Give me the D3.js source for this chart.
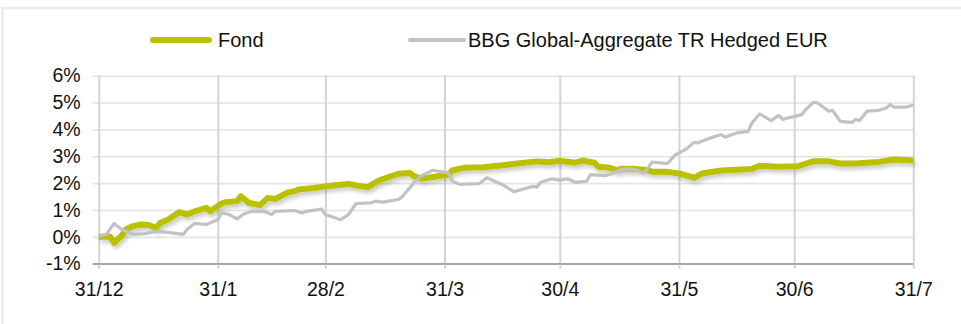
<!DOCTYPE html>
<html>
<head>
<meta charset="utf-8">
<script src="https://cdn.jsdelivr.net/npm/d3@7"></script>
<style>
  html, body { margin: 0; padding: 0; background: #fff; }
  svg { display: block; font-family: Arial, "Liberation Sans", sans-serif; }
</style>
</head>
<body>
<svg id="chart" width="961" height="324"></svg>
<script>
// Series names
const seriesNames = ["Fond", "BBG Global-Aggregate TR Hedged EUR"];

// Fund cumulative performance (%)
const fondDates = [
  "2022-12-31","2023-01-03","2023-01-04","2023-01-06","2023-01-07","2023-01-09","2023-01-11","2023-01-13",
  "2023-01-15","2023-01-16","2023-01-18","2023-01-21","2023-01-23","2023-01-25","2023-01-28","2023-01-29",
  "2023-02-01","2023-02-02","2023-02-05","2023-02-06","2023-02-08","2023-02-11","2023-02-13","2023-02-15",
  "2023-02-18","2023-02-20","2023-02-21","2023-02-25","2023-02-28","2023-03-06","2023-03-08","2023-03-11",
  "2023-03-14","2023-03-19","2023-03-22","2023-03-23","2023-03-25","2023-03-28","2023-04-01","2023-04-02",
  "2023-04-05","2023-04-10","2023-04-14","2023-04-19","2023-04-24","2023-04-27","2023-04-30","2023-05-04",
  "2023-05-06","2023-05-09","2023-05-10","2023-05-13","2023-05-15","2023-05-16","2023-05-19","2023-05-23",
  "2023-05-24","2023-05-28","2023-05-31","2023-06-04","2023-06-06","2023-06-11","2023-06-19","2023-06-21",
  "2023-06-26","2023-07-01","2023-07-05","2023-07-09","2023-07-12","2023-07-16","2023-07-22","2023-07-26",
  "2023-07-31"
];
const fondValues = [
  0.00, 0.00, -0.22, 0.05, 0.27, 0.40, 0.46, 0.44,
  0.33, 0.52, 0.64, 0.92, 0.83, 0.95, 1.08, 0.95,
  1.24, 1.29, 1.33, 1.51, 1.27, 1.18, 1.45, 1.41,
  1.64, 1.70, 1.76, 1.82, 1.88, 1.97, 1.91, 1.85,
  2.10, 2.35, 2.38, 2.26, 2.16, 2.23, 2.32, 2.47,
  2.57, 2.59, 2.65, 2.73, 2.81, 2.78, 2.83, 2.76,
  2.84, 2.76, 2.61, 2.57, 2.48, 2.54, 2.54, 2.48,
  2.42, 2.42, 2.36, 2.20, 2.36, 2.47, 2.53, 2.65,
  2.61, 2.63, 2.81, 2.81, 2.73, 2.73, 2.79, 2.88,
  2.84
];

// Benchmark cumulative performance (%)
const benchDates = [
  "2022-12-31","2023-01-02","2023-01-04","2023-01-06","2023-01-09","2023-01-12","2023-01-15","2023-01-19",
  "2023-01-22","2023-01-23","2023-01-25","2023-01-28","2023-01-31","2023-02-01","2023-02-03","2023-02-05",
  "2023-02-07","2023-02-09","2023-02-12","2023-02-14","2023-02-15","2023-02-20","2023-02-22","2023-02-23",
  "2023-02-27","2023-02-28","2023-03-04","2023-03-06","2023-03-08","2023-03-12","2023-03-13","2023-03-15",
  "2023-03-19","2023-03-20","2023-03-23","2023-03-25","2023-03-28","2023-04-01","2023-04-02","2023-04-04",
  "2023-04-09","2023-04-11","2023-04-15","2023-04-18","2023-04-23","2023-04-24","2023-04-25","2023-04-28",
  "2023-04-30","2023-05-02","2023-05-04","2023-05-07","2023-05-08","2023-05-12","2023-05-14","2023-05-16",
  "2023-05-19","2023-05-22","2023-05-24","2023-05-28","2023-05-30","2023-06-02","2023-06-04","2023-06-05",
  "2023-06-07","2023-06-11","2023-06-12","2023-06-15","2023-06-18","2023-06-19","2023-06-21","2023-06-24",
  "2023-06-26","2023-06-27","2023-06-29","2023-07-02","2023-07-03","2023-07-05","2023-07-06","2023-07-09",
  "2023-07-10","2023-07-12","2023-07-15","2023-07-16","2023-07-17","2023-07-19","2023-07-22","2023-07-24",
  "2023-07-25","2023-07-26","2023-07-29","2023-07-31"
];
const benchValues = [
  0.02, 0.09, 0.50, 0.27, 0.09, 0.12, 0.21, 0.15,
  0.09, 0.27, 0.50, 0.46, 0.64, 0.89, 0.83, 0.67,
  0.87, 0.95, 0.95, 0.83, 0.95, 0.98, 0.89, 0.95,
  1.03, 0.83, 0.64, 0.83, 1.24, 1.27, 1.33, 1.29,
  1.39, 1.49, 2.01, 2.28, 2.48, 2.38, 2.07, 1.95,
  1.98, 2.20, 1.95, 1.68, 1.88, 1.85, 2.03, 2.16,
  2.11, 2.16, 2.03, 2.07, 2.32, 2.28, 2.38, 2.51,
  2.53, 2.38, 2.78, 2.73, 3.04, 3.28, 3.52, 3.50,
  3.62, 3.81, 3.71, 3.87, 3.93, 4.24, 4.58, 4.33,
  4.52, 4.37, 4.45, 4.55, 4.74, 5.01, 4.99, 4.68,
  4.71, 4.30, 4.26, 4.37, 4.33, 4.68, 4.71, 4.80,
  4.93, 4.83, 4.83, 4.90
];

// Axis ticks
const xTickDates = ["2022-12-31","2023-01-31","2023-02-28","2023-03-31","2023-04-30","2023-05-31","2023-06-30","2023-07-31"];
const xTickLabels = ["31/12","31/1","28/2","31/3","30/4","31/5","30/6","31/7"];
const yTickValues = [-1, 0, 1, 2, 3, 4, 5, 6];
const yTickLabels = ["-1%","0%","1%","2%","3%","4%","5%","6%"];

const parse = d3.utcParse("%Y-%m-%d");
const fond = fondDates.map((d, i) => ({ date: parse(d), value: fondValues[i] }));
const bench = benchDates.map((d, i) => ({ date: parse(d), value: benchValues[i] }));
const xTicks = xTickDates.map(parse);

const colFond = "#bac200";
const colBench = "#c2c2c2";
const tickFont = "19.5px";
const legendFont = "20px";

const svg = d3.select("#chart");

// frame
svg.append("rect")
  .attr("x", 2.5).attr("y", 8).attr("width", 1000).attr("height", 400)
  .attr("fill", "none").attr("stroke", "#ebebeb").attr("stroke-width", 2.5);

const plotLeft = 98.7, plotRight = 913.3, plotTop = 75.7, plotBottom = 263.7;

const x = d3.scaleUtc()
  .domain([xTicks[0], xTicks[xTicks.length - 1]])
  .range([plotLeft, plotRight]);
const y = d3.scaleLinear().domain([-1, 6]).range([plotBottom, plotTop]);

// shadow under the fund line
const defs = svg.append("defs");
const f = defs.append("filter").attr("id", "shadow")
  .attr("x", "-5%").attr("y", "-50%").attr("width", "110%").attr("height", "200%");
f.append("feDropShadow")
  .attr("dx", 2).attr("dy", 3).attr("stdDeviation", 2.2)
  .attr("flood-color", "#000").attr("flood-opacity", 0.22);

// horizontal gridlines + y labels
const yAxis = d3.axisLeft(y)
  .tickValues(yTickValues)
  .tickSize(0)
  .tickFormat((d, i) => yTickLabels[i]);
const gy = svg.append("g").attr("transform", `translate(${plotLeft},0)`).call(yAxis);
gy.select(".domain").remove();
gy.selectAll(".tick line")
  .attr("x1", -6)
  .attr("x2", plotRight - plotLeft)
  .attr("stroke", (d) => d === -1 ? "#a6a6a6" : "#e3e3e3")
  .attr("stroke-width", 1.6);
gy.selectAll(".tick text")
  .attr("x", -18)
  .attr("fill", "#111")
  .style("font-size", tickFont)
  .attr("text-anchor", "end");

// vertical gridlines + x labels
const xAxis = d3.axisBottom(x)
  .tickValues(xTicks)
  .tickSize(0)
  .tickFormat((d, i) => xTickLabels[i]);
const gx = svg.append("g").attr("transform", `translate(0,${plotBottom})`).call(xAxis);
gx.select(".domain").remove();
gx.selectAll(".tick line")
  .attr("y1", 5)
  .attr("y2", -(plotBottom - plotTop))
  .attr("stroke", "#d4d4d4")
  .attr("stroke-width", 2);
gx.selectAll(".tick text")
  .attr("y", 18)
  .attr("dy", "0.71em")
  .attr("fill", "#111")
  .style("font-size", tickFont);

// redraw the baseline over the vertical gridlines
svg.append("line")
  .attr("x1", plotLeft - 6).attr("x2", plotRight)
  .attr("y1", y(-1)).attr("y2", y(-1))
  .attr("stroke", "#a6a6a6").attr("stroke-width", 1.4);

const line = d3.line().x(d => x(d.date)).y(d => y(d.value));

svg.append("path").datum(fond)
  .attr("d", line)
  .attr("fill", "none")
  .attr("stroke", colFond)
  .attr("stroke-width", 6)
  .attr("stroke-linejoin", "round")
  .attr("filter", "url(#shadow)");

svg.append("path").datum(bench)
  .attr("d", line)
  .attr("fill", "none")
  .attr("stroke", colBench)
  .attr("stroke-width", 3.2)
  .attr("stroke-linejoin", "round");

// legend
const legend = svg.append("g");
const items = [
  { name: seriesNames[0], color: colFond, width: 6, x1: 153, x2: 209, tx: 218 },
  { name: seriesNames[1], color: colBench, width: 4, x1: 410, x2: 464, tx: 468 }
];
items.forEach(it => {
  legend.append("line")
    .attr("x1", it.x1).attr("x2", it.x2).attr("y1", 40).attr("y2", 40)
    .attr("stroke", it.color).attr("stroke-width", it.width)
    .attr("stroke-linecap", "round");
  legend.append("text")
    .attr("x", it.tx).attr("y", 47)
    .attr("fill", "#111")
    .style("font-size", legendFont)
    .text(it.name);
});
</script>
</body>
</html>
